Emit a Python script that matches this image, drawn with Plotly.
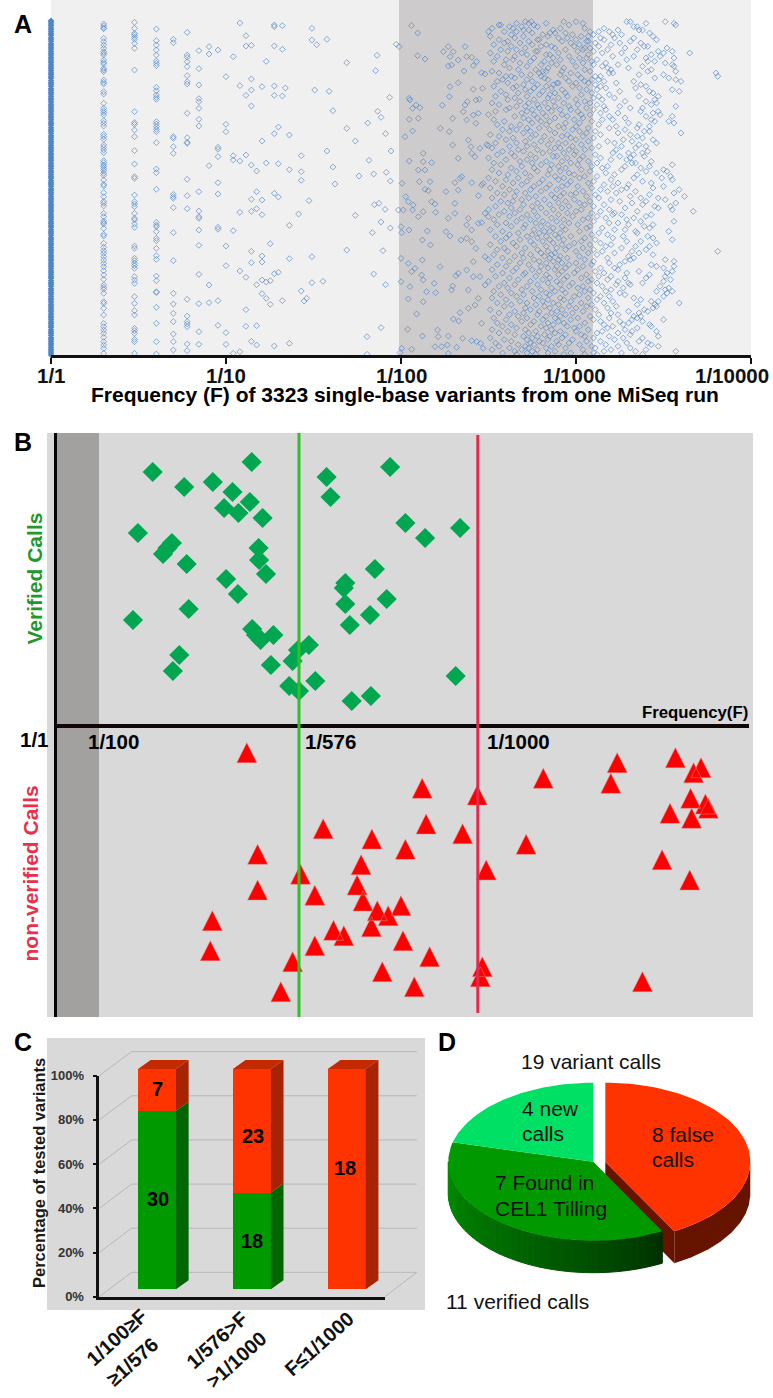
import numpy as np
import plotly.graph_objects as go

W, H = 773, 1398
FONT = "Liberation Sans"

# ---------- Panel A data ----------
a_tick_den = [0, 1, 2, 3, 4]
a_tick_labels = ["1/1", "1/10", "1/100", "1/1000", "1/10000"]
rank_d1 = [62,66,72,77,84,89,95,101,106,113,118,124,131,136,142,147,154,160,165,172,177,183,188,195,201,206,212,219,224,230,235,242,248,253,259,266,271,277,282,289,295,300,306,313,318,324,330,335,342,348,353,359,366,371,376,383,389,394,400,407,412,418,424,429,436,442,447,453,460,465,471,477,482,489,495,500,506,513,518,524,530,535,542,548,553,559,566,571,577,582,589,595,600,606,613,618,624,630,635,642,648,653,659,666,671,677,682,689,695,700,706,713,718,724,730,735,742,748,753,759,766,771,777,782,789,795,800,806,813,818,824,830,835,842,848,853,859,866,871,877,882,889,895,900,906,913,918,924,930,935,942,948,953,959,966,971,977,982,989,995,1000,1006,1013,1018,1024,1030,1035,1042,1048,1053,1059,1065]
rank_d2 = [72,78,84,86,115,125,135,145,155,160,165,180,187,192,205,210,215,240,247,252,275,282,310,325,332,338,345,362,370,378,403,410,418,435,442,450,458,482,488,495,500,506,512,520,526,540,553,558,578,590,604,610,618,640,650,663,668,672,685,703,708,730,742,752,760,770,780,790,800,812,825,838,855,862,868,880,905,910,925,945,970,980,990,1000,1012,1025,1035,1045,1060]
rank_d3 = [67,85,100,105,112,118,130,145,210,335,368,373,390,410,452,492,530,535,585,605,612,620,640,655,660,672,682,738,745,775,782,790,797,805,830,840,850,890,910,932,945,985,992,1000,1018,1025,1060]
rank_d4 = [87,122,135,150,165,183,190,197,262,272,285,292,298,365,372,380,388,395,428,507,518,568,667,675,680,695,715,722,745,767,778,828,842,875,878,922,970,1025,1062]
rank_d5 = [118,128,410,415,440,460,583,590,595,623,698,782,880,912,940,965,1002,1025,1050]
rank_d6 = [97,165,172,185,200,227,245,252,340,413,427,430,538,587,626,898,948,965,972,980,1032,1052]
rank_d7 = [152,206,255,296,305,325,358,378,575,633,650,655,690,736,823,911,995,1033]
rank_d8 = [140,162,497,855,908]
rank_d9 = [150,442,448,470,548,582,682,688,902,976]
rank_d10 = [230,373,395,738,797,998,1033]
rank_d11 = [170,467,480,692,1060]
rank_d12 = [69,257,483,637,813,1055]
a_columns = [(2, rank_d2), (3, rank_d3), (4, rank_d4), (5, rank_d5), (6, rank_d6),
             (7, rank_d7), (8, rank_d8), (9, rank_d9), (10, rank_d10), (11, rank_d11), (12, rank_d12)]

a_low_pairs = [(1.114,107),(1.114,138),(1.145,136),(1.145,237),(1.145,270),(1.114,286),(1.145,318),(1.206,260),(1.276,258),(1.339,264),(1.276,286),(1.322,288),(1.276,75),(1.322,77),(1.276,80),(1.276,138),(1.322,148),(1.23,184),(1.491,85),(1.491,120),(1.518,134),(1.577,118),(1.69,188),(1.507,270),(1.589,274),(1.611,332),(1.863,166),(1.855,212),(1.935,292),(1.867,334),(1.886,352),(1.81,369),(1.69,385),(1.299,381),(1.276,401),(1.362,405),(1.206,423),(1.739,423),(1.912,401),(1.577,453),(1.43,467),(1.943,453),(1.114,465),(1.145,495),(1.23,489),(1.299,491),(1.175,513),(1.362,509),(1.43,515),(1.43,541),(1.611,501),(1.817,481),(1.844,522),(1.916,517),(1.76,528),(1.939,543),(1.623,552),(1.175,575),(1.145,598),(1.206,600),(1.276,580),(1.299,591),(1.474,602),(1.848,614),(1.874,610),(1.909,628),(1.145,634),(1.175,626),(1.206,644),(1.415,642),(1.739,646),(1.886,666),(1.836,698),(1.939,684),(1.362,676),(1.253,731),(1.145,754),(1.206,768),(1.362,776),(1.69,750),(1.897,752),(1.491,770),(1.145,788),(1.206,786),(1.114,832),(1.175,854),(1.206,840),(1.23,846),(1.253,842),(1.276,821),(1.299,817),(1.491,848),(1.554,844),(1.844,822),(1.912,854),(1.206,881),(1.23,895),(1.253,913),(1.322,902),(1.43,873),(1.446,903),(1.461,895),(1.114,929),(1.114,979),(1.175,977),(1.886,983),(1.145,1024),(1.175,1035),(1.276,1038),(1.362,1030),(1.806,1010),(1.806,1063),(1.973,133),(1.989,140)]

a_mid_pairs = [(2.06,77),(2.095,99),(2.095,167),(2.137,177),(2.242,155),(2.27,140),(2.299,155),(2.28,170),(2.289,195),(2.27,198),(2.327,180),(2.375,170),(2.404,172),(2.366,140),(2.36,213),(2.432,185),(2.413,197),(2.461,218),(2.48,222),(2.327,248),(2.28,260),(2.413,268),(2.466,265),(2.276,290),(2.047,295),(2.051,300),(2.086,315),(2.066,325),(2.108,323),(2.236,316),(2.379,305),(2.366,315),(2.356,335),(2.428,300),(2.447,298),(2.442,340),(2.413,345),(2.047,358),(2.099,355),(2.295,355),(2.375,360),(2.428,370),(2.225,385),(2.066,393),(2.023,410),(2.276,395),(2.295,435),(2.385,420),(2.4,440),(2.404,460),(2.423,470),(2.451,445),(2.499,437),(2.327,475),(2.127,460),(2.047,483),(2.127,485),(2.175,488),(2.099,510),(2.137,510),(2.105,545),(2.166,545),(2.006,550),(2.137,568),(2.156,572),(2.257,575),(2.308,548),(2.337,535),(2.347,530),(2.327,570),(2.404,548),(2.442,587),(2.461,555),(2.47,550),(2.027,590),(2.042,605),(2.07,615),(2.175,605),(2.194,612),(2.308,610),(2.066,630),(1.985,630),(2.013,630),(2.127,635),(2.198,637),(2.099,650),(2.308,640),(2.27,655),(2.385,655),(2.375,675),(2.442,670),(2.461,668),(2.48,640),(2.499,650),(2.0,680),(2.046,690),(2.004,698),(2.15,693),(2.257,695),(2.28,708),(2.404,690),(2.122,720),(2.168,735),(2.343,720),(2.375,715),(2.404,725),(2.428,745),(2.0,775),(2.042,790),(2.122,780),(2.413,785),(2.48,770),(2.08,805),(2.061,815),(2.118,825),(2.127,840),(2.223,800),(2.327,820),(2.314,827),(2.375,810),(2.413,830),(2.451,830),(2.48,855),(2.0,845),(2.051,860),(2.146,875),(2.19,850),(2.198,878),(2.295,858),(2.289,870),(2.385,870),(2.442,895),(2.423,915),(2.042,897),(2.127,905),(2.385,925),(2.089,942),(2.337,938),(2.299,957),(2.33,963),(2.461,970),(2.038,988),(2.122,1008),(2.209,990),(2.213,1010),(2.27,1008),(2.352,1015),(2.404,1022),(2.432,1025),(2.455,1030),(2.004,1045),(2.061,1048),(2.194,1040),(2.232,1040),(2.265,1035),(2.27,1060),(2.318,1042),(2.47,1045),(1.994,1058)]

a_dense_rows = [
(65,[2.71,2.745,2.93,3.0,3.29,3.31,3.51]),(70,[2.66,2.73,2.83,3.04,3.40,3.56]),(75,[2.56,2.57,2.76,2.96,3.57]),
(80,[2.62,2.69,2.78,3.33,3.35]),(85,[2.52,2.64,2.91,3.05,3.16]),(90,[2.70,2.73,2.87,3.24,3.36,3.38]),
(95,[2.50,2.59,2.66,3.08,3.13,3.19]),(99,[2.75,2.85,2.88,2.94,3.42]),(104,[2.63,2.81,2.98,3.10,3.21,3.26]),
(109,[2.51,2.70,2.84,3.03,3.07,3.44]),(114,[2.65,2.90,2.95,3.14,3.22,3.33]),(119,[2.56,2.78,2.79,3.00,3.16,3.46]),
(124,[2.61,2.73,2.92,3.06,3.07,3.31]),(129,[2.59,2.68,2.97,3.11,3.25,3.37]),(134,[2.53,2.75,2.83,3.02,3.20]),
(139,[2.63,2.80,2.86,2.99,3.13,3.39,3.41]),(144,[2.71,2.88,3.05,3.08,3.28,3.52]),(149,[2.57,2.66,2.94,3.04,3.18,3.35]),
(154,[2.61,2.77,2.78,3.01,3.10,3.47,3.55]),(159,[2.51,2.69,2.90,3.15,3.26,3.50,3.65]),(164,[2.72,2.83,2.85,3.07,3.43]),
(169,[2.55,2.65,2.96,3.21,3.33,3.48]),(174,[2.76,2.87,3.02,3.06,3.40,3.56]),(179,[2.60,2.64,2.91,3.12,3.29]),
(184,[2.53,2.74,2.82,2.98,3.09,3.41,3.45]),(189,[2.68,2.86,3.04,3.17,3.51]),(194,[2.59,2.80,2.89,3.10,3.24,3.55]),
(199,[2.72,3.00,3.15,3.38,3.56]),(204,[2.62,2.84,2.93,3.18,3.30]),(209,[2.67,2.77,3.05,3.20,3.43]),
(214,[2.52,2.81,2.83,2.92,3.08,3.57,3.41]),(219,[2.56,2.79,2.97,3.19,3.21,3.80]),(224,[2.69,2.74,2.91,3.01,3.36,3.50]),
(229,[2.60,2.63,2.80,3.11,3.14,3.81]),(234,[2.65,2.82,2.94,3.03,3.45,3.53]),(239,[2.58,2.72,2.84,3.09,3.13,3.57]),
(244,[2.55,2.75,2.96,3.05,3.16,3.33,3.60]),(249,[2.61,2.89,2.90,3.00,3.07,3.23]),(254,[2.70,2.78,2.87,3.11,3.37]),
(259,[2.53,2.66,2.83,2.98,3.14,3.40]),(264,[2.64,2.76,2.86,3.02,3.17,3.34]),(269,[2.71,2.92,3.06,3.12,3.55]),
(274,[2.57,2.74,2.81,3.25,3.42,3.59]),(279,[2.67,2.88,2.94,3.09,3.44]),(284,[2.60,2.79,2.85,3.03,3.19]),
(289,[2.54,2.72,2.95,3.13,3.36,3.47]),(294,[2.65,2.84,2.90,3.10,3.22]),(299,[2.61,2.76,3.00,3.15,3.45]),
(304,[2.68,2.87,3.05,3.28,3.40]),(309,[2.52,2.73,2.82,2.93,3.08,3.46]),(314,[2.56,2.78,3.01,3.12,3.43]),
(319,[2.66,2.71,2.88,2.96,3.16,3.25,3.57]),(324,[2.62,2.79,2.84,3.06,3.31,3.38]),(329,[2.60,2.75,2.91,2.97,3.10,3.17]),
(334,[2.54,2.72,2.86,3.01,3.37,3.47]),(339,[2.69,2.81,3.14,3.24,3.44]),(344,[2.50,2.76,2.92,3.03,3.08,3.48]),
(349,[2.65,2.83,2.95,3.19,3.40,3.55]),(354,[2.70,2.78,2.88,3.04,3.28]),(359,[2.53,2.73,2.99,3.15,3.21,3.43]),
(364,[2.59,2.80,2.85,3.09,3.45,3.53]),(369,[2.75,2.94,3.02,3.56,3.30]),(374,[2.55,2.68,2.83,3.13,3.36]),
(379,[2.63,2.90,3.00,3.23,3.42]),(384,[2.72,2.79,2.93,3.07,3.19,3.35]),(389,[2.58,2.66,2.85,2.98,3.28]),
(394,[2.62,2.74,3.02,3.11,3.39,3.42]),(399,[2.70,2.88,3.06,3.24,3.60]),(404,[2.51,2.77,2.95,3.14,3.31]),
(409,[2.56,2.82,2.92,3.04,3.35]),(414,[2.64,2.74,2.97,3.10,3.38]),(419,[2.60,2.86,3.00,3.27,3.44]),
(424,[2.71,2.80,3.07,3.18,3.32]),(429,[2.54,2.66,2.90,2.94,3.22,3.46]),(434,[2.49,2.76,2.84,3.03,3.36]),
(439,[2.62,2.72,2.98,3.13,3.26,3.40]),(444,[2.52,2.88,2.91,3.09,3.34]),(449,[2.67,2.78,2.96,3.05,3.23]),
(454,[2.58,2.70,2.85,3.00,3.41]),(459,[2.63,2.81,2.93,3.21,3.30,3.38]),(464,[2.55,2.74,2.99,3.11,3.33]),
(469,[2.65,2.87,2.89,3.04,3.25,3.39]),(474,[2.50,2.77,2.95,3.14,3.31]),(479,[2.60,2.72,3.02,3.20,3.29]),
(484,[2.68,2.83,2.92,3.07,3.43]),(489,[2.53,2.75,2.97,3.12,3.32,3.34]),(494,[2.57,2.80,2.86,3.01,3.55]),
(499,[2.69,2.90,3.09,3.18,3.28,3.42]),(504,[2.63,2.76,2.94,3.15,3.37]),(509,[2.52,2.85,3.03,3.26,3.50]),
(514,[2.66,2.78,2.91,3.08,3.40,3.52]),(519,[2.56,2.71,2.96,3.17,3.46]),(524,[2.61,2.84,2.99,3.22,3.35]),
(529,[2.74,2.88,3.05,3.12,3.54]),(534,[2.50,2.67,2.93,3.02,3.33,3.49]),(539,[2.60,2.81,2.90,3.20,3.55]),
(544,[2.54,2.72,2.97,3.10,3.38]),(549,[2.64,2.79,3.07,3.24,3.43]),(554,[2.69,2.85,2.95,3.16,3.30]),
(559,[2.58,2.76,2.92,3.01,3.21,3.50]),(564,[2.51,2.83,3.09,3.29,3.44]),(569,[2.62,2.74,2.89,3.14,3.26,3.59]),
(574,[2.66,2.80,3.04,3.18,3.34]),(579,[2.55,2.71,2.93,3.00,3.23,3.56]),(584,[2.59,2.86,2.97,3.11,3.42]),
(589,[2.65,2.77,2.91,3.06,3.31,3.62]),(594,[2.52,2.73,2.88,3.13,3.37,3.47]),(599,[2.69,2.82,2.99,3.20,3.51]),
(604,[2.57,2.64,2.94,3.08,3.25,3.40]),(609,[2.61,2.78,2.90,3.02,3.32,3.57]),(614,[2.70,2.85,3.05,3.16,3.38]),
(619,[2.54,2.75,2.96,3.10,3.45,3.54]),(624,[2.63,2.80,2.92,3.28,3.47]),(629,[2.50,2.68,2.87,3.03,3.19,3.55]),
(634,[2.59,2.76,3.00,3.14,3.35,3.67]),(639,[2.65,2.83,2.95,3.09,3.22]),(644,[2.56,2.72,2.90,3.21,3.26,3.43]),
(649,[2.62,2.78,2.98,3.12,3.40]),(654,[2.69,2.86,3.07,3.17,3.33]),(659,[2.53,2.74,2.93,3.04,3.29]),
(664,[2.66,2.81,2.89,3.10,3.37,3.56]),(669,[2.60,2.77,2.96,3.19,3.24]),(674,[2.55,2.71,2.84,3.01,3.30,3.44]),
(679,[2.63,2.80,2.92,3.08,3.39]),(684,[2.70,2.87,3.06,3.15,3.42]),(689,[2.51,2.76,2.94,3.22,3.28]),
(694,[2.58,2.82,2.85,3.02,3.34,3.53]),(699,[2.67,2.79,2.91,3.13,3.35]),(704,[2.62,2.75,2.88,3.09,3.18]),
(709,[2.54,2.72,2.83,2.97,3.27,3.41]),(714,[2.60,2.78,2.90,3.05,3.21,3.44]),(719,[2.68,2.85,2.93,3.11,3.55]),
(724,[2.57,2.74,2.81,3.03,3.29,3.37]),(729,[2.64,2.87,2.99,3.14,3.46]),(734,[2.51,2.76,2.92,3.08,3.20]),
(739,[2.66,2.83,2.96,3.17,3.34,3.42]),(744,[2.59,2.71,2.89,3.04,3.26]),(749,[2.55,2.78,2.94,3.10,3.40]),
(754,[2.61,2.84,3.00,3.15,3.81,3.32]),(759,[2.69,2.80,2.88,3.07,3.22,3.36]),(764,[2.53,2.74,2.86,3.12,3.44]),
(769,[2.65,2.82,2.91,3.02,3.30]),(774,[2.58,2.70,2.85,2.95,3.18,3.33]),(779,[2.50,2.76,2.90,3.05,3.31,3.51]),
(784,[2.62,2.79,2.87,3.10,3.28,3.56]),(789,[2.68,2.83,2.92,3.00,3.19]),(794,[2.55,2.73,2.96,3.09,3.25,3.43]),
(799,[2.60,2.80,2.89,3.04,3.46,3.56]),(804,[2.66,2.84,2.94,3.14,3.22,3.50]),(809,[2.52,2.75,2.88,3.01,3.24]),
(814,[2.64,2.79,2.92,3.11,3.36,3.55]),(819,[2.58,2.71,2.99,3.16,3.29,3.52]),(824,[2.70,2.83,2.90,3.06,3.42]),
(829,[2.54,2.77,2.95,3.13,3.20,3.51]),(834,[2.62,2.85,3.03,3.28,3.40]),(839,[2.67,2.81,2.93,3.09,3.18,3.54]),
(844,[2.50,2.74,2.89,3.07,3.24,3.50]),(849,[2.59,2.84,2.98,3.12,3.30,3.38]),(854,[2.65,2.78,2.91,3.23,3.31]),
(859,[2.56,2.72,2.96,3.04,3.15,3.48]),(864,[2.61,2.86,3.01,3.27,3.53]),(869,[2.69,2.80,2.92,3.08,3.20,3.51]),
(874,[2.53,2.75,2.88,3.05,3.17,3.46,3.55]),(879,[2.63,2.83,2.94,3.10,3.25,3.52]),(884,[2.57,2.70,2.85,3.02,3.28]),
(889,[2.66,2.79,2.99,3.14,3.19,3.50]),(894,[2.52,2.76,2.91,3.07,3.33]),(899,[2.60,2.84,2.93,3.12,3.37]),
(904,[2.68,2.81,2.97,3.21,3.43,3.47]),(909,[2.55,2.72,2.87,3.03,3.16,3.59]),(914,[2.63,2.77,2.90,3.09,3.35,3.45]),
(919,[2.59,2.82,2.96,3.06,3.23,3.46]),(924,[2.71,2.85,3.00,3.18,3.44]),(929,[2.51,2.74,2.92,3.11,3.39]),
(934,[2.65,2.79,2.89,3.04,3.30,3.41]),(939,[2.56,2.70,2.86,2.98,3.20,3.36]),(944,[2.62,2.78,2.94,3.13,3.24]),
(949,[2.67,2.83,2.91,3.08,3.33,3.37]),(954,[2.53,2.72,2.88,3.01,3.19,3.35]),(959,[2.60,2.81,2.97,3.10,3.32,3.50]),
(964,[2.69,2.76,2.90,3.14,3.25,3.38]),(969,[2.55,2.84,2.93,3.05,3.30]),(974,[2.63,2.74,2.87,3.16,3.27,3.42]),
(979,[2.58,2.80,2.95,3.02,3.21,3.43]),(984,[2.66,2.83,2.99,3.18,3.35]),(989,[2.52,2.71,2.86,3.07,3.28]),
(994,[2.61,2.77,2.91,3.00,3.15,3.32,3.46]),(999,[2.56,2.73,2.88,3.12,3.24]),(1004,[2.65,2.82,2.94,3.03,3.31]),
(1009,[2.70,2.78,2.85,3.05,3.19,3.47]),(1014,[2.51,2.75,2.92,3.10,3.27,3.38]),(1019,[2.59,2.72,2.84,2.98,3.22]),
(1024,[2.63,2.79,2.89,3.06,3.14,3.36]),(1029,[2.54,2.74,2.81,2.96,3.29,3.41]),(1034,[2.67,2.76,2.90,3.02,3.17,3.43]),
(1039,[2.56,2.71,2.86,3.09,3.24,3.47]),(1044,[2.62,2.73,2.83,2.94,3.11,3.31]),(1049,[2.52,2.69,2.78,3.04,3.20,3.40]),
(1054,[2.65,2.75,2.88,3.16,3.34,3.57]),(1059,[2.58,2.72,2.84,2.97,3.10,3.26]),(1063,[2.66,2.77,2.93,3.05,3.12,3.38]),
]

# ---------- Panel B data ----------
b_verified_f = [97.7,196.7,129.2,157.8,177.5,194.8,169.1,183.4,207.6,271.6,275.5,335.1,350.4,370.1,405.1,82.9,116.9,112.5,108,131.7,203.6,204.1,211,171.1,182.9,133.7,78,319.9,290.3,288.8,290.3,331.7,315,294.8,197.2,205.6,201,218.4,253.9,243,237.6,124.3,117.9,215.9,260.3,400.7,234.2,244,296.7,315.9]
b_verified_h = [254,264,239,244,234,224,218,213,208,249,229,259,203,188,198,193,183,178,172,162,178,166,152,147,132,117,106,157,143,138,122,127,111,101,97,86,91,91,81,76,65,71,55,61,45,50,40,35,25,30]
b_false_f = [191.8,562.2,620.4,646,638.6,488.3,555.8,367.2,422.3,635.6,650.4,653.4,615,636.6,371.1,407.6,268.2,316.9,471.1,350.4,202.6,607.1,306.1,431.2,245.5,634.7,302.1,202.6,259.8,308,346,322.3,333.2,157.3,316.4,278.5,288.8,348,259.8,155.3,374.6,237.6,427.3,327.3,425.3,587.4,359.3,225.8]
b_false_h = [-26.7,-36.7,-31.7,-41.7,-46.7,-52.3,-57.3,-62.3,-69,-72.3,-78,-82.3,-87.3,-92.3,-98,-107.7,-102.7,-113,-118.3,-123.3,-128.3,-133.7,-138.7,-144,-148.3,-154,-159,-164,-169.3,-175,-179.7,-184.7,-189.7,-194.7,-200.7,-204.3,-209.7,-214.7,-219.7,-224.7,-230.7,-235.7,-240.7,-245.7,-250.7,-255.7,-260.7,-265.7]
b_green_line_f = 244
b_red_line_f = 422.8

# ---------- Panel C data ----------
c_categories = [0, 1, 2]
c_verified = [30, 18, 0]
c_false = [7, 23, 18]
c_ticks = [0, 20, 40, 60, 80, 100]
c_tick_labels = ["0%", "20%", "40%", "60%", "80%", "100%"]

# ---------- Panel D data ----------
d_values = [8, 7, 4]

# ---------- helpers ----------
def px(x): return x / W
def py(y): return 1 - y / H
def cx(z): return z / 3
def cy(z): return 1025 + z / 3

annotations = []
def text(x, y, s, size, color="#000", bold=True, angle=0, anchor="center"):
    annotations.append(dict(x=px(x), y=py(y), xref="paper", yref="paper", text=s, showarrow=False,
                            xanchor=anchor, yanchor="middle", textangle=angle,
                            font=dict(family=FONT, size=size, color=color, weight="bold" if bold else "normal")))

shapes = []
def rect(x0, y0, x1, y1, color):
    shapes.append(dict(type="rect", xref="paper", yref="paper", x0=px(x0), x1=px(x1), y0=py(y0), y1=py(y1),
                       fillcolor=color, line=dict(width=0), layer="below"))
def seg(x0, y0, x1, y1, color="#b7b7b7", width=1):
    shapes.append(dict(type="line", xref="paper", yref="paper", x0=px(x0), x1=px(x1), y0=py(y0), y1=py(y1),
                       line=dict(color=color, width=width), layer="below"))

fig = go.Figure()

# ---------- Panel A ----------
rect(51, 0, 751, 355, "#f0f0f0")
rect(399, 0, 593, 355, "#cdcbcb")
fig.add_trace(go.Scatter(x=[0.0] * len(rank_d1), y=rank_d1, mode="markers", xaxis="x", yaxis="y", cliponaxis=False,
                         hoverinfo="skip", marker=dict(symbol="diamond", size=5, color="#4d86c8", line=dict(width=0))))
ax, ay = [], []
for den, ranks in a_columns:
    ax += [float(np.log10(den))] * len(ranks)
    ay += ranks
for lg, r in a_low_pairs + a_mid_pairs:
    ax.append(lg); ay.append(r)
for r, logs in a_dense_rows:
    ax += logs
    ay += [r] * len(logs)
fig.add_trace(go.Scatter(x=ax, y=ay, mode="markers", xaxis="x", yaxis="y", cliponaxis=False, hoverinfo="skip",
                         marker=dict(symbol="diamond-open", size=4.5, opacity=0.72, color="#4a80c4",
                                     line=dict(width=0.9, color="#4a80c4"))))

# ---------- Panel B ----------
rect(47, 433, 753, 1017, "#d9d9d9")
rect(55, 433, 99, 1017, "#a3a1a0")
fig.add_trace(go.Scatter(x=b_verified_f, y=b_verified_h, mode="markers", xaxis="x2", yaxis="y2", hoverinfo="skip",
                         marker=dict(symbol="diamond", size=15.5, color="#00a650", line=dict(width=0))))
tx, ty = [], []
for f, h in zip(b_false_f, b_false_h):
    tx += [f - 10, f + 10, f, f - 10, None]
    ty += [h - 10, h - 10, h + 10, h - 10, None]
fig.add_trace(go.Scatter(x=tx, y=ty, mode="lines", fill="toself", fillcolor="#fe0000", line=dict(width=0.5, color="#d88"),
                         xaxis="x2", yaxis="y2", hoverinfo="skip"))
fig.add_trace(go.Scatter(x=[b_green_line_f] * 2, y=[-291, 293], mode="lines", xaxis="x2", yaxis="y2", hoverinfo="skip",
                         line=dict(color="#2cc325", width=3)))
fig.add_trace(go.Scatter(x=[b_red_line_f] * 2, y=[-287, 291], mode="lines", xaxis="x2", yaxis="y2", hoverinfo="skip",
                         line=dict(color="#e22a4c", width=3)))

# ---------- Panel C ----------
rect(47, 1038, 425, 1310, "#d9d9d9")
back_y = [742 - 132.4 * k for k in range(6)]
for k, by in enumerate(back_y):
    seg(cx(395), cy(by), cx(1250), cy(by))
    seg(cx(298), cy(815 - 132.6 * k), cx(395), cy(by))
seg(cx(1250), cy(742), cx(1155), cy(815))

c_total = [a + b for a, b in zip(c_verified, c_false)]
c_green = [100 * a / t for a, t in zip(c_verified, c_total)]
c_red = [100 * b / t for b, t in zip(c_false, c_total)]
BW, DX, DY = 0.4, 0.1335, 4.1
fig.add_trace(go.Bar(x=c_categories, y=c_green, width=BW, marker=dict(color="#009900", line=dict(width=0)),
                     xaxis="x3", yaxis="y3", hoverinfo="skip"))
fig.add_trace(go.Bar(x=c_categories, y=c_red, width=BW, marker=dict(color="#ff3300", line=dict(width=0)),
                     xaxis="x3", yaxis="y3", hoverinfo="skip"))
def poly(xs, ys, color, xa="x3", ya="y3", edge=0):
    fig.add_trace(go.Scatter(x=xs + xs[:1], y=ys + ys[:1], mode="lines", fill="toself", fillcolor=color,
                             line=dict(width=edge, color=color), xaxis=xa, yaxis=ya, hoverinfo="skip", cliponaxis=False))
for c, g, r in zip(c_categories, c_green, c_red):
    e = c + BW / 2
    if g > 0:
        poly([e, e + DX, e + DX, e], [0, DY, g + DY, g], "#006600")
    poly([e, e + DX, e + DX, e], [g, g + DY, g + r + DY, g + r], "#a82300")
    poly([c - BW / 2, e, e + DX, c - BW / 2 + DX], [100, 100, 100 + DY, 100 + DY], "#c42a00")
# left axis of panel C, on its own scale
fig.add_trace(go.Scatter(x=[0], y=[0], mode="markers", marker=dict(opacity=0, size=1), xaxis="x4", yaxis="y4", hoverinfo="skip"))
text(cx(473), cy(193), "7", 20)
text(cx(473), cy(521), "30", 20)
text(cx(759), cy(333), "23", 20)
text(cx(757), cy(648), "18", 20)
text(cx(1034), cy(428), "18", 20)
text(39, 1173, "Percentage of tested variants", 16.5, "#1a1a1a", angle=-90)
text(117, 1337, "1/100≥F", 20, "#111", angle=-42)
text(132, 1362, "≥1/576", 20, "#111", angle=-42)
text(217, 1340, "1/576>F", 20, "#111", angle=-42)
text(236, 1360, ">1/1000", 20, "#111", angle=-42)
text(319, 1344, "F≤1/1000", 20, "#111", angle=-42)

# ---------- Panel D ----------
A_R, B_R, DEPTH, EXPLODE = 145, 79, 32, 12
edges = np.cumsum([0] + d_values) / sum(d_values) * 2 * np.pi
def arc(t0, t1, n=80):
    t = np.linspace(t0, t1, n)
    return A_R * np.sin(t), B_R * np.cos(t)
def dpoly(xs, ys, color, edge=0):
    poly(list(map(float, xs)), list(map(float, ys)), color, "x5", "y5", edge)
# false calls: cut wall, rim and top
xa, ya = arc(np.pi / 2, edges[1])
ex, ey = A_R * np.sin(edges[1]) + EXPLODE, B_R * np.cos(edges[1])
dpoly([EXPLODE, EXPLODE, ex, ex], [0, -DEPTH, ey - DEPTH, ey], "#661400")
dpoly(np.r_[xa + EXPLODE, (xa + EXPLODE)[::-1]], np.r_[ya, (ya - DEPTH)[::-1]], "#661400")
xa, ya = arc(edges[0], edges[1])
dpoly(np.r_[EXPLODE, xa + EXPLODE], np.r_[0, ya], "#ff3300")
# found calls: rim as shaded strips
ts = np.linspace(edges[1], 1.5 * np.pi, 46)
dark, light = np.array([0, 48, 0]), np.array([0, 140, 0])
for i in range(len(ts) - 1):
    f = (i / (len(ts) - 2)) ** 0.8
    col = dark + (light - dark) * f
    xa, ya = arc(ts[i], ts[i + 1], 5)
    dpoly(np.r_[xa, xa[::-1]], np.r_[ya, (ya - DEPTH)[::-1]], f"rgb({col[0]:.0f},{col[1]:.0f},{col[2]:.0f})", 1)
xa, ya = arc(edges[1], edges[2])
dpoly(np.r_[0, xa], np.r_[0, ya], "#009900")
xa, ya = arc(edges[2], edges[3])
dpoly(np.r_[0, xa], np.r_[0, ya], "#00e064")
text(591, 1061, "19 variant calls", 21, "#111", bold=False)
text(444, 1301, "11 verified calls", 21, "#111", bold=False, anchor="left")
text(520, 1108, "4 new", 21, "#111", bold=False, anchor="left")
text(520, 1133, "calls", 21, "#111", bold=False, anchor="left")
text(650, 1134, "8 false", 21, "#111", bold=False, anchor="left")
text(650, 1159, "calls", 21, "#111", bold=False, anchor="left")
text(493, 1182, "7 Found in", 21, "#111", bold=False, anchor="left")
text(493, 1208, "CEL1 Tilling", 21, "#111", bold=False, anchor="left")

# ---------- Panel texts ----------
text(23, 24, "A", 25)
text(23, 442, "B", 25)
text(23, 1042, "C", 25)
text(447, 1042, "D", 25)
text(405, 395, "Frequency (F) of 3323 single-base variants from one MiSeq run", 21)
for xp, lab in zip([51, 226, 401, 574, 732], a_tick_labels):
    text(xp, 375, lab, 20.5, "#111")
text(750, 712, "Frequency(F)", 16.8, anchor="right")
text(34.5, 739, "1/1", 20.5)
text(113, 741, "1/100", 20.5)
text(330, 741, "1/576", 20.5)
text(518, 741, "1/1000", 20.5)
text(33.5, 579, "Verified Calls", 21, "#22982a", angle=-90)
text(29.5, 874, "non-verified Calls", 21, "#e8304a", angle=-90)

hidden = dict(visible=False, showgrid=False, zeroline=False)
fig.update_layout(
    width=W, height=H, margin=dict(l=0, r=0, t=0, b=0, autoexpand=False), autosize=False,
    paper_bgcolor="white", plot_bgcolor="rgba(0,0,0,0)", showlegend=False, barmode="stack",
    shapes=shapes, annotations=annotations, font=dict(family=FONT),
    xaxis=dict(domain=[px(51), px(751)], range=[0, 4], anchor="y", tickvals=a_tick_den, showticklabels=False,
               showgrid=False, zeroline=False, showline=True, linecolor="#111", linewidth=2.5,
               ticks="outside", ticklen=6, tickwidth=2, tickcolor="#111"),
    yaxis=dict(domain=[py(355), py(0)], range=[1065, 0], anchor="x", **hidden),
    xaxis2=dict(domain=[px(55), px(749)], range=[0, 694], anchor="y2", showgrid=False, showticklabels=False,
                ticks="", zeroline=True, zerolinecolor="#050505", zerolinewidth=3),
    yaxis2=dict(domain=[py(1017), py(433)], range=[-291, 293], anchor="x2", showgrid=False, showticklabels=False,
                ticks="", zeroline=True, zerolinecolor="#100808", zerolinewidth=4),
    xaxis3=dict(domain=[px(99.3), px(385)], range=[-0.608, 2.403], anchor="y3", **hidden),
    yaxis3=dict(domain=[py(1289.3), py(1047)], range=[0, 110], anchor="x3", **hidden),
    xaxis4=dict(domain=[px(99.3), px(385)], range=[-0.608, 2.403], anchor="y4", showgrid=False, zeroline=False,
                showticklabels=False, ticks="", showline=True, linecolor="#111", linewidth=2.5),
    yaxis4=dict(domain=[py(1296.7), py(1075.7)], range=[0, 100], anchor="x4", tickvals=c_ticks, ticktext=c_tick_labels,
                showgrid=False, zeroline=False, showline=True, linecolor="#111", linewidth=2.5,
                ticks="outside", ticklen=4, tickwidth=2, tickcolor="#111", ticklabelstandoff=6,
                tickfont=dict(family=FONT, size=13, color="#333", weight="bold")),
    xaxis5=dict(domain=[px(430), px(773)], range=[-163.3, 179.7], anchor="y5", **hidden),
    yaxis5=dict(domain=[py(1280), py(1080)], range=[-118.3, 81.7], anchor="x5", **hidden),
)
fig.write_html("out.html", config={"displayModeBar": False},
               post_script="document.body.style.margin='0';document.documentElement.style.overflow='hidden';")
